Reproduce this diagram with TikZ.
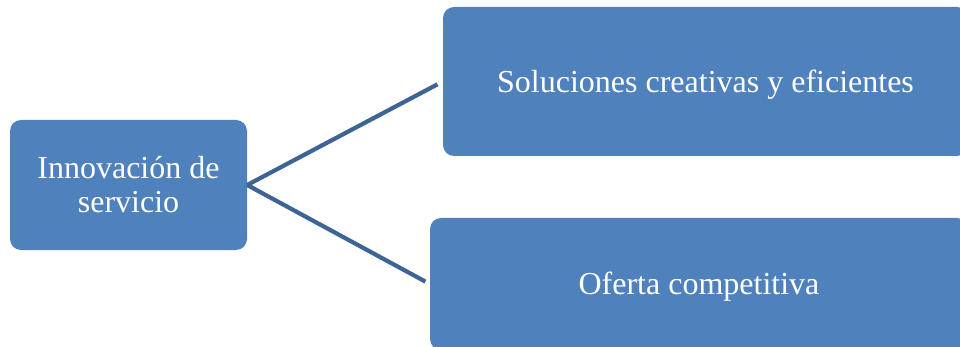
\documentclass[tikz,border=0pt]{standalone}
\usepackage{fontspec}
\setmainfont{Liberation Serif}
\usetikzlibrary{positioning}
\definecolor{boxblue}{HTML}{4F81BD}
\definecolor{linkblue}{HTML}{3D6495}

\begin{document}
\begin{tikzpicture}[line cap=round,line join=round,x=1pt,y=-1pt,
  blk/.style={fill=boxblue,draw=none,rounded corners=11pt,inner sep=0pt,
    text=white,align=center,font=\fontsize{32}{34}\selectfont},
  oneline/.style={text height=28pt,text depth=6.4pt},
  link/.style={line width=4.2pt,color=linkblue,line cap=butt}]
\useasboundingbox (0,0) rectangle (960,347);
\clip (0,0) rectangle (960,347);
\node [blk,minimum width=237pt,minimum height=130pt] (innov) at (128.5,185) {Innovación de\\servicio};
\node [blk,oneline,minimum width=525pt,minimum height=149pt] (soluc) at (705.5,81.5) {Soluciones creativas y eficientes};
\node [blk,oneline,minimum width=538pt,minimum height=132pt] (ofert) at (699,284) {Oferta competitiva};
\draw [link,shorten >=6pt] (innov.east) -- (soluc.west);
\draw [link,shorten >=5pt] (innov.east) -- (ofert.west);
\end{tikzpicture}
\end{document}
